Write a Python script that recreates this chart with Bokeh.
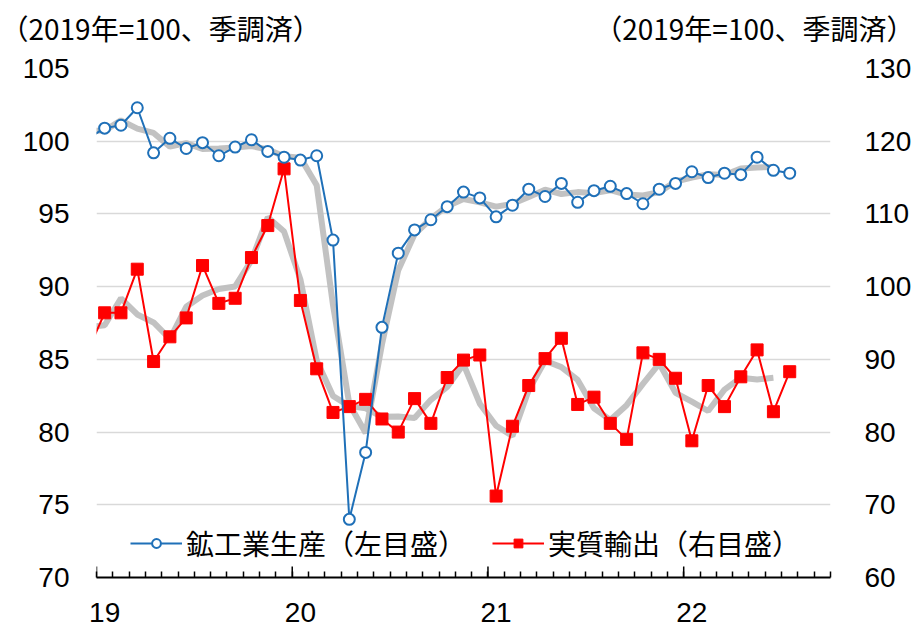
import pandas as pd
from bokeh.plotting import figure
from bokeh.layouts import column
from bokeh.models import (Range1d, LinearAxis, FixedTicker, Legend, LegendItem,
                          ColumnDataSource)
from bokeh.core.properties import value
from bokeh.embed import file_html
from bokeh.resources import INLINE

# ---------------- data (monthly, Nov 2018 - Jul 2022) ----------------
months = [str(m) for m in pd.period_range("2018-11", "2022-07", freq="M")]

# 鉱工業生産 (left axis, 2019=100)
production = [101.0, 100.2,
              100.9, 101.1, 102.3, 99.2, 100.2, 99.5, 99.9, 99.0, 99.6, 100.1, 99.3, 98.9,
              98.7, 99.0, 93.2, 74.0, 78.6, 87.2, 92.3, 93.9, 94.6, 95.5, 96.5, 96.1,
              94.8, 95.6, 96.7, 96.2, 97.1, 95.8, 96.6, 96.9, 96.4, 95.7, 96.7, 97.1,
              97.9, 97.5, 97.8, 97.7, 98.9, 98.0, 97.8]
# gray smoothed line for production (3-month centred average, as read)
production_avg = [float("nan"), 100.70,
                  100.73, 101.43, 100.87, 100.57, 99.63, 99.87, 99.47, 99.50, 99.57, 99.67, 99.43, 98.97,
                  98.87, 96.97, 88.73, 81.93, 79.93, 86.03, 91.13, 93.60, 94.67, 95.53, 96.03, 95.80,
                  95.50, 95.70, 96.17, 96.67, 96.37, 96.50, 96.43, 96.63, 96.33, 96.27, 96.50, 97.23,
                  97.50, 97.73, 97.67, 98.13, 98.20, 98.23, float("nan")]

# 実質輸出 (right axis, 2019=100)
exports = [95.5, 91.3,
           96.4, 96.4, 102.4, 89.7, 93.1, 95.7, 102.9, 97.7, 98.4, 104.0, 108.4, 116.2,
           98.1, 88.7, 82.7, 83.5, 84.5, 81.8, 80.0, 84.6, 81.2, 87.5, 89.9, 90.6,
           71.2, 80.8, 86.4, 90.1, 92.9, 83.8, 84.8, 81.2, 79.0, 90.9, 90.0, 87.4,
           78.8, 86.4, 83.5, 87.6, 91.3, 82.8, 88.3]
exports_avg = [float("nan"), 94.40,
               94.70, 98.40, 96.17, 95.07, 92.83, 97.23, 98.77, 99.67, 100.03, 103.60, 109.53, 107.57,
               101.00, 89.83, 84.97, 83.57, 83.27, 82.10, 82.13, 81.93, 84.43, 86.20, 89.33, 83.90,
               80.87, 79.47, 85.77, 89.80, 88.93, 87.17, 83.27, 81.67, 83.70, 86.63, 89.43, 85.40,
               84.20, 82.90, 85.83, 87.47, 87.23, 87.47, float("nan")]

year_labels = ["19", "20", "21", "22"]
left_ticks = [70, 75, 80, 85, 90, 95, 100, 105]
right_ticks = [60, 70, 80, 90, 100, 110, 120, 130]
unit_text = "（2019年=100、季調済）"
legend_labels = ["鉱工業生産（左目盛）", "実質輸出（右目盛）"]

# month position: months since Jan 2019, centred in the month
def mpos(s):
    y, m = s.split("-")
    return (int(y) - 2019) * 12 + (int(m) - 1) + 0.5

x = [mpos(s) for s in months]
src = ColumnDataSource(dict(x=x, prod=production, prod_avg=production_avg,
                            exp=exports, exp_avg=exports_avg))

BLUE = "#1F70B8"
RED = "#FF0000"
GRAY = "#BFBFBF"
JP = "Noto Sans CJK JP"
NUM = "Liberation Sans"
W = 914
HEAD_H = 50

# ---------------- header with the two unit notes ----------------
head = figure(width=W, height=HEAD_H, x_range=Range1d(0, W), y_range=Range1d(0, HEAD_H),
              output_backend="svg", toolbar_location=None, x_axis_type=None, y_axis_type=None,
              min_border=0, min_border_left=0, min_border_right=0, min_border_top=0,
              min_border_bottom=0)
head.frame_align = False
head.outline_line_color = None
head.xgrid.visible = False
head.ygrid.visible = False
head.text(x=[0], y=[23], text=[unit_text], text_font=value(JP), text_font_size=value("28px"),
          text_baseline="middle", text_align="left", text_color="#000000")
head.text(x=[W], y=[23], text=[unit_text], text_font=value(JP), text_font_size=value("28px"),
          text_baseline="middle", text_align="right", text_color="#000000")

# ---------------- main chart ----------------
p = figure(width=W, height=629 - HEAD_H, x_range=Range1d(0, 45), y_range=Range1d(70, 105),
           output_backend="svg", toolbar_location=None,
           min_border_left=96, min_border_right=81, min_border_top=18, min_border_bottom=52)
p.frame_align = False
p.extra_y_ranges = {"r": Range1d(60, 130)}
p.outline_line_color = None

# grid
p.xgrid.visible = False
p.ygrid.grid_line_color = "#D9D9D9"
p.ygrid.grid_line_width = 1.5
p.ygrid.ticker = FixedTicker(ticks=left_ticks)

# left axis
ya = p.yaxis[0]
ya.ticker = FixedTicker(ticks=left_ticks)
ya.axis_line_color = None
ya.major_tick_line_color = None
ya.minor_tick_line_color = None
ya.major_label_text_font = NUM
ya.major_label_text_font_size = "28px"
ya.major_label_text_color = "#000000"
ya.major_label_standoff = 21

# right axis
ra = LinearAxis(y_range_name="r", ticker=FixedTicker(ticks=right_ticks))
ra.axis_line_color = None
ra.major_tick_line_color = None
ra.minor_tick_line_color = None
ra.major_label_text_font = NUM
ra.major_label_text_font_size = "28px"
ra.major_label_text_color = "#000000"
ra.major_label_standoff = 28
p.add_layout(ra, "right")

# x axis: axis line with month ticks pointing inside
xa = p.xaxis[0]
year_starts = [12 * i for i in range(len(year_labels))]
xa.ticker = FixedTicker(ticks=[], minor_ticks=list(range(46)))
xa.axis_line_color = "#000000"
xa.axis_line_width = 1.8
xa.minor_tick_in = 6
xa.minor_tick_out = 0
xa.major_tick_in = 0
xa.major_tick_out = 0
xa.minor_tick_line_color = "#000000"
xa.minor_tick_line_width = 1.5
xa.major_label_standoff = 0

# longer ticks at year boundaries
p.segment(x0=year_starts, y0=[70] * len(year_starts), x1=year_starts,
          y1=[70.75] * len(year_starts), line_color="#000000", line_width=1.5)

# x axis: year labels centred on January
year_pos = [y0 + 0.5 for y0 in year_starts]
xl = LinearAxis(ticker=FixedTicker(ticks=year_pos, minor_ticks=[]),
                major_label_overrides={pos: lab for pos, lab in zip(year_pos, year_labels)})
xl.axis_line_color = None
xl.major_tick_line_color = None
xl.minor_tick_line_color = None
xl.major_label_text_font = NUM
xl.major_label_text_font_size = "28px"
xl.major_label_text_color = "#000000"
xl.major_label_standoff = 19
p.add_layout(xl, "below")

# series
p.line("x", "prod_avg", source=src, line_color=GRAY, line_width=6, line_alpha=0.95)
p.line("x", "exp_avg", source=src, line_color=GRAY, line_width=6, line_alpha=0.95, y_range_name="r")

r_line = p.line("x", "exp", source=src, line_color=RED, line_width=2, y_range_name="r")
r_pts = p.scatter("x", "exp", source=src, marker="square", size=12, fill_color=RED,
                  line_color=RED, y_range_name="r")

b_line = p.line("x", "prod", source=src, line_color=BLUE, line_width=2)
b_pts = p.scatter("x", "prod", source=src, marker="circle", size=11, fill_color="white",
                  line_color=BLUE, line_width=2)

legend = Legend(items=[LegendItem(label=legend_labels[0], renderers=[b_line, b_pts]),
                       LegendItem(label=legend_labels[1], renderers=[r_line, r_pts])],
                orientation="horizontal", location=(34, 14),
                glyph_width=52, glyph_height=22, label_standoff=4, spacing=26,
                padding=0, margin=0, border_line_color=None, background_fill_alpha=0,
                label_text_font=JP, label_text_font_size="28px", label_text_color="#000000")
p.add_layout(legend, "center")

layout = column(head, p, spacing=0)
open("out.html", "w").write(file_html(layout, INLINE))
